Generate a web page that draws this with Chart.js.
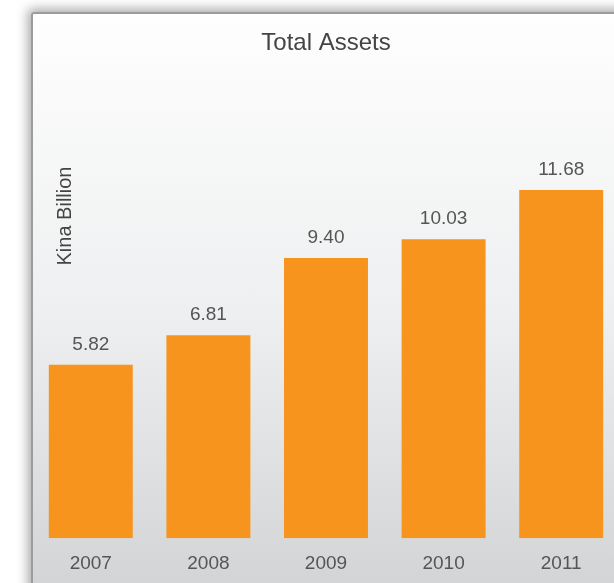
<!DOCTYPE html>
<html>
<head>
<meta charset="utf-8">
<script src="https://cdn.jsdelivr.net/npm/chart.js@4"></script>
<style>
  html, body { margin: 0; padding: 0; width: 614px; height: 583px; overflow: hidden; background: #fff; }
  .panel {
    position: absolute; left: 31px; top: 12px; width: 700px; height: 600px;
    border-left: 2px solid #9c9c9c; border-top: 2px solid #9c9c9c;
    border-top-left-radius: 3px;
    box-shadow: -3px -3px 12px rgba(0,0,0,0.35);
    background: linear-gradient(to bottom, #fefefe 0px, #eeeff0 300px, #d3d4d6 571px);
  }
  #wrap { position: absolute; left: 0; top: 0; width: 640px; height: 589px; }
</style>
</head>
<body>
<div class="panel"></div>
<div id="wrap"><canvas id="assetsChart" width="640" height="589"></canvas></div>
<script>
const years = ['2007', '2008', '2009', '2010', '2011'];
const totalAssets = [5.82, 6.81, 9.40, 10.03, 11.68];
const axisTitle = 'Kina Billion';

const textColor = '#555';
Chart.defaults.font.family = '"Liberation Sans", Arial, sans-serif';

// value above each bar + rotated axis caption
const labelsPlugin = {
  id: 'barLabels',
  afterDatasetsDraw(chart) {
    const ctx = chart.ctx;
    const meta = chart.getDatasetMeta(0);
    ctx.save();
    ctx.font = '19px "Liberation Sans", Arial, sans-serif';
    ctx.fillStyle = textColor;
    ctx.textAlign = 'center';
    ctx.textBaseline = 'middle';
    meta.data.forEach((bar, i) => {
      ctx.fillText(totalAssets[i].toFixed(2), bar.x, bar.y - 20);
    });
    ctx.translate(65, 216);
    ctx.rotate(-Math.PI / 2);
    ctx.font = '20px "Liberation Sans", Arial, sans-serif';
    ctx.fillStyle = '#444';
    ctx.fillText(axisTitle, 0, 0);
    ctx.restore();
  }
};

new Chart(document.getElementById('assetsChart'), {
  type: 'bar',
  data: {
    labels: years,
    datasets: [{
      label: 'Total Assets',
      data: totalAssets,
      backgroundColor: '#F7941E',
      borderWidth: 0,
      categoryPercentage: 1,
      barPercentage: 0.714
    }]
  },
  options: {
    responsive: false,
    animation: false,
    layout: { padding: { left: 32, right: 20, top: 0, bottom: 0 } },
    plugins: {
      legend: { display: false },
      tooltip: { enabled: false },
      title: {
        display: true,
        text: 'Total Assets',
        color: '#444',
        font: { size: 24, weight: 'normal' },
        padding: { top: 29, bottom: 63 }
      }
    },
    scales: {
      x: {
        grid: { display: false, drawTicks: false },
        border: { display: false },
        ticks: { color: textColor, font: { size: 19 }, padding: 14 }
      },
      y: {
        display: false,
        min: 0,
        max: 14
      }
    }
  },
  plugins: [labelsPlugin]
});
</script>
</body>
</html>
